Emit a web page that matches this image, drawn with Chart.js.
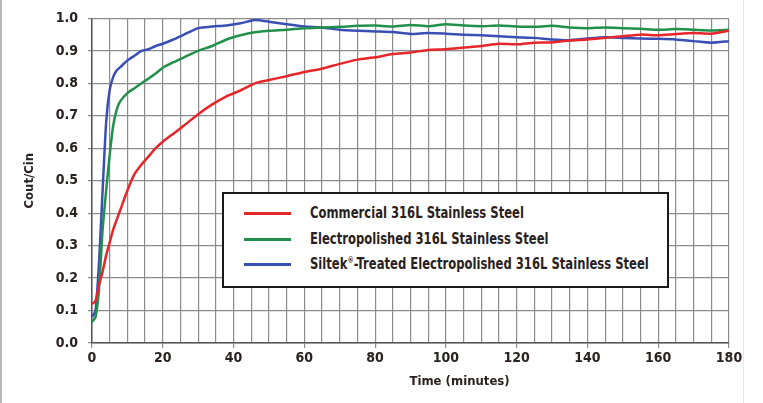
<!DOCTYPE html>
<html>
<head>
<meta charset="utf-8">
<script src="https://cdn.jsdelivr.net/npm/chart.js@4"></script>
<style>
    html, body { margin: 0; padding: 0; background: #fff; }
    .frame { position: relative; width: 763px; height: 403px; overflow: hidden; }
    .edge-left { position: absolute; left: 0; top: 0; width: 2px; height: 403px; background: #b8b8b8; }
    .edge-right { position: absolute; left: 743px; top: 0; width: 1px; height: 403px; background: #e6e6e6; }
    canvas { position: absolute; left: 0; top: 0; }
    .legend-box {
        position: absolute; left: 222px; top: 192px; width: 443px; height: 92px;
        background: #fff; border: 2px solid #1a1a1a;
        font-family: "DejaVu Sans Condensed", sans-serif;
        font-weight: bold; font-size: 15px; color: #2a1f1f;
    }
    .legend-row { position: absolute; left: 0; height: 20px; display: flex; align-items: center; white-space: nowrap; }
    .legend-swatch { width: 47px; height: 3px; margin-left: 20px; margin-right: 19px; flex: none; }
    .legend-text { display: inline-block; transform: scaleX(0.86); transform-origin: left center; }
    .legend-row sup { font-size: 8px; line-height: 0; }
</style>
</head>
<body>
<div class="frame">
    <div class="edge-left"></div>
    <div class="edge-right"></div>
    <canvas id="breakthroughChart" width="763" height="403"></canvas>
    <div class="legend-box" id="legend"></div>
</div>
<script>
// time in minutes
const times = [0, 1, 2, 3, 4, 5, 6, 7, 8, 10, 12, 14, 16, 18, 20, 23, 26, 30, 34, 38, 42, 46, 50, 55, 60, 65, 70, 75, 80, 85, 90, 95, 100, 105, 110, 115, 120, 125, 130, 135, 140, 145, 150, 155, 160, 165, 170, 175, 180];

const commercial = [0.12, 0.13, 0.18, 0.22, 0.27, 0.31, 0.35, 0.38, 0.41, 0.47, 0.52, 0.55, 0.575, 0.60, 0.62, 0.645, 0.67, 0.705, 0.735, 0.76, 0.778, 0.80, 0.81, 0.822, 0.835, 0.845, 0.86, 0.873, 0.88, 0.89, 0.895, 0.903, 0.905, 0.91, 0.915, 0.922, 0.92, 0.925, 0.926, 0.932, 0.935, 0.94, 0.945, 0.95, 0.948, 0.952, 0.955, 0.953, 0.962];

const electropolished = [0.065, 0.08, 0.17, 0.35, 0.47, 0.58, 0.67, 0.72, 0.745, 0.77, 0.785, 0.80, 0.815, 0.83, 0.848, 0.865, 0.88, 0.90, 0.915, 0.935, 0.948, 0.957, 0.962, 0.965, 0.97, 0.972, 0.974, 0.977, 0.978, 0.975, 0.98, 0.976, 0.982, 0.978, 0.976, 0.978, 0.975, 0.974, 0.977, 0.972, 0.97, 0.972, 0.97, 0.968, 0.965, 0.967, 0.965, 0.963, 0.965];

const siltek = [0.08, 0.10, 0.25, 0.47, 0.68, 0.78, 0.82, 0.84, 0.85, 0.87, 0.885, 0.90, 0.905, 0.915, 0.922, 0.935, 0.95, 0.97, 0.975, 0.978, 0.985, 0.995, 0.99, 0.982, 0.975, 0.972, 0.965, 0.962, 0.96, 0.958, 0.952, 0.955, 0.953, 0.95, 0.948, 0.945, 0.942, 0.94, 0.935, 0.933, 0.938, 0.942, 0.94, 0.938, 0.937, 0.935, 0.93, 0.925, 0.93];

const seriesLabels = [
    'Commercial 316L Stainless Steel',
    'Electropolished 316L Stainless Steel',
    'Siltek®-Treated Electropolished 316L Stainless Steel'
];

const fontFamily = '"DejaVu Sans Condensed", sans-serif';
const textColor = '#2a2222';
const gridColor = '#8c8c8c';

function toPoints(values) {
    return times.map((t, i) => ({ x: t, y: values[i] }));
}

function makeSet(label, values, color) {
    return {
        label: label,
        data: toPoints(values),
        borderColor: color,
        backgroundColor: color,
        borderWidth: 2.5,
        pointRadius: 0,
        tension: 0.2,
        fill: false
    };
}

// x axis title sits right of centre in the original, so draw it by hand
const xTitlePlugin = {
    id: 'xTitle',
    afterDraw(chart) {
        const ctx = chart.ctx;
        const area = chart.chartArea;
        ctx.save();
        ctx.font = 'bold 13px ' + fontFamily;
        ctx.fillStyle = textColor;
        ctx.textAlign = 'center';
        ctx.textBaseline = 'middle';
        ctx.fillText('Time (minutes)', area.left + (area.right - area.left) * 0.577, 382);
        ctx.restore();
    }
};

const ctx = document.getElementById('breakthroughChart').getContext('2d');
const chart = new Chart(ctx, {
    type: 'line',
    data: {
        datasets: [
            makeSet(seriesLabels[0], commercial, '#e5262b'),
            makeSet(seriesLabels[1], electropolished, '#22904a'),
            makeSet(seriesLabels[2], siltek, '#3a4fb4')
        ]
    },
    options: {
        responsive: false,
        animation: false,
        layout: { padding: { left: 0, top: 17, right: 34, bottom: 0 } },
        scales: {
            x: {
                type: 'linear',
                min: 0,
                max: 180,
                afterFit(scale) { scale.height = 60; },
                border: { color: '#555', width: 1.5 },
                grid: {
                    color: gridColor,
                    lineWidth: 1.2,
                    tickLength: 5,
                    tickColor: c => (c.tick && c.tick.value % 20 === 0) ? gridColor : 'rgba(0,0,0,0)'
                },
                ticks: {
                    stepSize: 5,
                    autoSkip: false,
                    maxRotation: 0,
                    color: textColor,
                    font: { family: fontFamily, size: 14, weight: 'bold' },
                    padding: 2,
                    callback: v => (v % 20 === 0 ? v : '')
                }
            },
            y: {
                min: 0,
                max: 1,
                afterFit(scale) { scale.width = 92; },
                border: { color: '#555', width: 1.5 },
                grid: { color: gridColor, lineWidth: 1.2, tickLength: 4 },
                ticks: {
                    stepSize: 0.1,
                    color: textColor,
                    font: { family: fontFamily, size: 14, weight: 'bold' },
                    padding: 10,
                    callback: v => v.toFixed(1)
                },
                title: {
                    display: true,
                    text: 'Cout/Cin',
                    color: textColor,
                    font: { family: fontFamily, size: 13, weight: 'bold' },
                    padding: { top: 22, bottom: 0 }
                }
            }
        },
        plugins: {
            legend: { display: false },
            tooltip: { enabled: false }
        }
    },
    plugins: [xTitlePlugin]
});

// legend box built from the datasets
const legendEl = document.getElementById('legend');
const rowTops = [9, 35, 60];
chart.data.datasets.forEach((ds, i) => {
    const row = document.createElement('div');
    row.className = 'legend-row';
    row.style.top = rowTops[i] + 'px';
    const label = ds.label.replace('®', '<sup>®</sup>');
    row.innerHTML = `<span class="legend-swatch" style="background:${ds.borderColor}"></span><span class="legend-text">${label}</span>`;
    legendEl.appendChild(row);
});
</script>
</body>
</html>
